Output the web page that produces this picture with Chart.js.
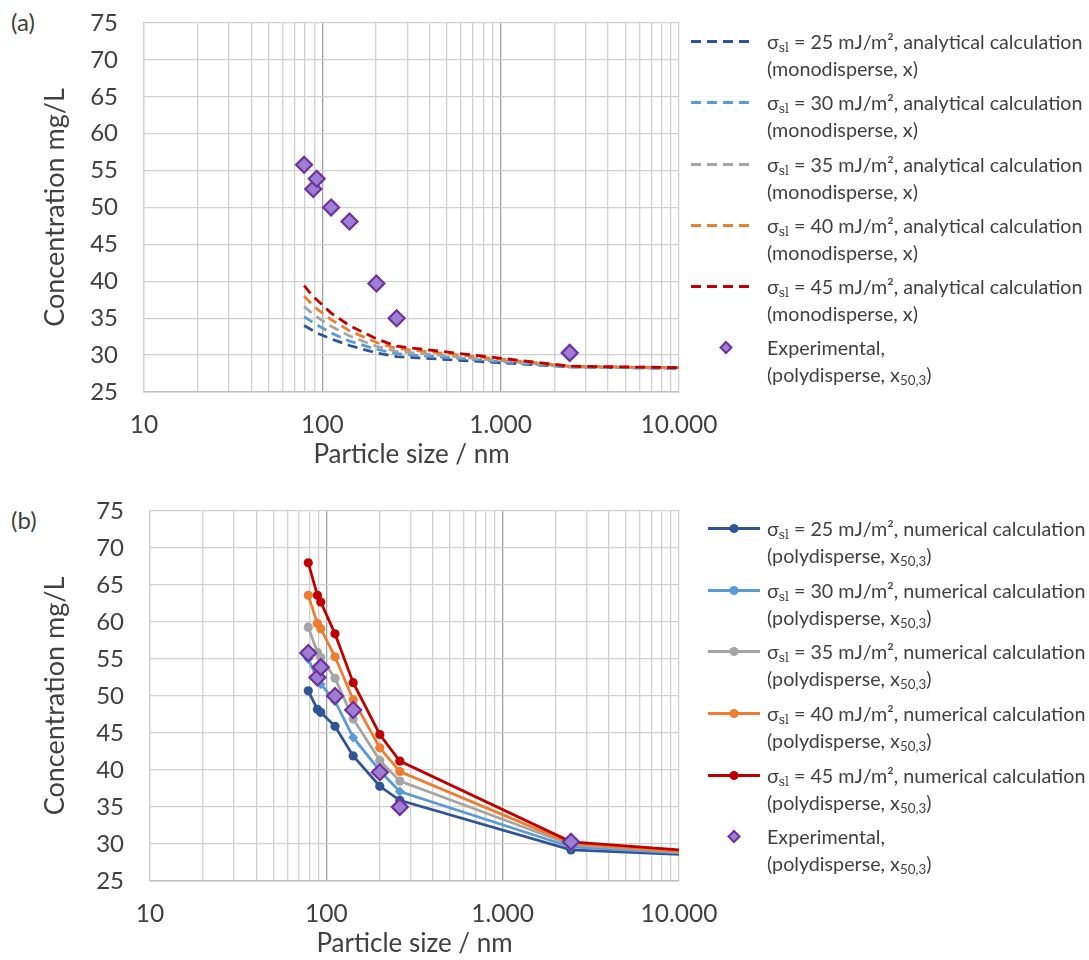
<!DOCTYPE html>
<html>
<head>
<meta charset="utf-8">
<script src="https://cdn.jsdelivr.net/npm/chart.js@4.4.1/dist/chart.umd.min.js"></script>
<style>
  body { margin:0; background:#fff; width:1089px; height:960px; position:relative; overflow:hidden; font-family:Lato, sans-serif; color:#404040; }
  .box { position:absolute; left:0; width:720px; height:470px; }
  #boxA { top:0; }
  #boxB { top:489px; }
  .tag { position:absolute; left:11px; font-size:24px; line-height:28px; }
  .legend { position:absolute; left:689px; width:400px; font-size:19.7px; }
  .entry { position:relative; }
  .entry .txt { position:absolute; left:78px; top:0; line-height:27px; white-space:nowrap; }
  .entry svg { position:absolute; left:0; top:0; }
  sub { font-size:0.68em; vertical-align:-0.25em; line-height:0; }
  sub.sl { font-family:"DejaVu Serif", serif; font-size:0.62em; }
</style>
</head>
<body>
<div class="tag" style="top:8px">(a)</div>
<div class="tag" style="top:506px">(b)</div>
<div class="box" id="boxA"><canvas id="chartA" width="720" height="470"></canvas></div>
<div class="box" id="boxB"><canvas id="chartB" width="720" height="470"></canvas></div>
<div class="legend" id="legA" style="top:28px"></div>
<div class="legend" id="legB" style="top:515px"></div>
<script>
// particle sizes (nm) of the samples, x50,3
const expSizes = [79, 89, 93, 112, 142, 201, 261, 2440];
const expConc  = [55.8, 52.5, 53.9, 50.0, 48.1, 39.7, 35.0, 30.3];

// sizes used for the calculated curves
const calcSizes = [79, 89, 93, 112, 142, 201, 261, 2440, 10000];
const sigmas = [25, 30, 35, 40, 45];

// (a) analytical calculation, monodisperse
const ana25 = [34.0, 33.3, 33.0, 32.2, 31.3, 30.3, 29.8, 28.4, 28.2];
const ana30 = [35.2, 34.4, 34.1, 33.0, 31.9, 30.8, 30.2, 28.4, 28.2];
const ana35 = [36.6, 35.5, 35.2, 33.9, 32.6, 31.2, 30.5, 28.4, 28.3];
const ana40 = [38.0, 36.7, 36.3, 34.8, 33.3, 31.7, 30.9, 28.5, 28.3];
const ana45 = [39.4, 37.9, 37.5, 35.7, 34.0, 32.2, 31.2, 28.5, 28.3];

// (b) numerical calculation, polydisperse
const num25 = [50.7, 48.2, 47.8, 45.9, 41.9, 37.8, 35.9, 29.2, 28.6];
const num30 = [55.0, 52.3, 51.6, 49.3, 44.4, 39.9, 37.1, 29.6, 28.8];
const num35 = [59.3, 55.9, 55.2, 52.4, 46.9, 41.3, 38.5, 29.9, 28.9];
const num40 = [63.6, 59.8, 59.1, 55.3, 49.5, 43.0, 39.8, 30.1, 29.0];
const num45 = [68.0, 63.6, 62.7, 58.4, 51.8, 44.8, 41.2, 30.3, 29.2];

const xTickText = {10: '10', 100: '100', 1000: '1.000', 10000: '10.000'};
const colors = ['#2f5597', '#5b9bd5', '#a5a5a5', '#ed7d31', '#c00000'];
const expFill = '#9c7fd2', expBorder = '#7030a0';
const txtColor = '#404040';
const fontFam = 'Lato';

// log grid: 10,20,...,90,100,200,...,10000
const gridValues = [];
[10, 100, 1000].forEach(d => { for (let m = 1; m < 10; m++) gridValues.push(m * d); });
gridValues.push(10000);

const pts = (xs, ys) => ys.map((y, i) => ({x: xs[i], y: y}));

const expSet = {
  label: 'Experimental', data: pts(expSizes, expConc), showLine: false, order: 0,
  pointStyle: 'rectRot', pointRadius: 8, backgroundColor: expFill, borderColor: expBorder, pointBorderWidth: 2.2
};

function makeChart(id, datasets, yWidth, padTop) {
  return new Chart(document.getElementById(id), {
    type: 'scatter',
    data: { datasets: datasets },
    options: {
      responsive: false, animation: false,
      layout: { padding: { top: padTop, right: 41, bottom: 0, left: 0 } },
      plugins: { legend: { display: false }, tooltip: { enabled: false } },
      scales: {
        x: {
          type: 'logarithmic', min: 10, max: 10000,
          afterBuildTicks: s => { s.ticks = gridValues.map(v => ({value: v})); },
          afterFit: s => { s.height = 78; s.paddingLeft = 0; s.paddingRight = 0; },
          ticks: { autoSkip: false, maxRotation: 0, padding: 18, color: txtColor,
                   font: {family: fontFam, size: 24.5}, callback: v => xTickText[v] || '' },
          grid: { drawTicks: false, lineWidth: 1.3,
                  color: c => (c.tick && (c.tick.value === 100 || c.tick.value === 1000)) ? '#a0a0a0' : '#d0d0d0' },
          border: { color: '#bfbfbf', width: 1.5 },
          title: { display: true, text: 'Particle size / nm', color: txtColor,
                   font: {family: fontFam, size: 26}, padding: {top: 0, bottom: 0} }
        },
        y: {
          min: 25, max: 75,
          afterFit: s => { s.width = yWidth; s.paddingTop = 0; s.paddingBottom = 0; },
          ticks: { stepSize: 5, padding: 26, color: txtColor, font: {family: fontFam, size: 24} },
          grid: { drawTicks: false, color: '#d0d0d0', lineWidth: 1.3 },
          border: { color: '#d0d0d0', width: 1.3 },
          title: { display: true, text: 'Concentration mg/L', color: txtColor,
                   font: {family: fontFam, size: 27}, padding: {top: 39, bottom: 0} }
        }
      }
    }
  });
}

// (a)
const anaSeries = [ana25, ana30, ana35, ana40, ana45];
const dsA = [expSet].concat(anaSeries.map((s, i) => ({
  label: 'sigma ' + sigmas[i], data: pts(calcSizes, s), showLine: true, order: 5 - i,
  borderColor: colors[i], borderWidth: 2.8, borderDash: [10, 6], pointRadius: 0, fill: false
})));
makeChart('chartA', dsA, 144, 23);

// (b)
const numSeries = [num25, num30, num35, num40, num45];
const lastIdx = calcSizes.length - 1;
const dsB = [Object.assign({}, expSet, {data: pts(expSizes, expConc)})].concat(numSeries.map((s, i) => ({
  label: 'sigma ' + sigmas[i], data: pts(calcSizes, s), showLine: true, order: 5 - i,
  borderColor: colors[i], backgroundColor: colors[i], borderWidth: 2.8,
  pointStyle: i === 1 ? 'rectRot' : 'circle', pointBorderWidth: 0,
  pointRadius: c => c.dataIndex === lastIdx ? 0 : (i === 1 ? 5 : 4.6)
})));
makeChart('chartB', dsB, 150, 22);

// legends (HTML, two-line entries)
function sampleSvg(color, kind, cx) {
  let s = '<svg width="78" height="27">';
  if (kind === 'dash') s += `<line x1="2" y1="13.5" x2="65" y2="13.5" stroke="${color}" stroke-width="2.8" stroke-dasharray="10,6"/>`;
  if (kind === 'line') s += `<line x1="19" y1="13.5" x2="71" y2="13.5" stroke="${color}" stroke-width="2.8"/>`;
  if (kind === 'line') s += `<circle cx="${cx}" cy="13.5" r="4.5" fill="${color}"/>`;
  if (kind === 'diamond') s += `<path d="M${cx} 8 L${cx + 5.5} 13.5 L${cx} 19 L${cx - 5.5} 13.5 Z" fill="${expFill}" stroke="${expBorder}" stroke-width="2"/>`;
  return s + '</svg>';
}
function buildLegend(id, entries, step) {
  const el = document.getElementById(id);
  el.innerHTML = entries.map(e =>
    `<div class="entry" style="height:${step}px">${e.svg}<div class="txt">${e.text}</div></div>`).join('');
}
const sig = 'σ<sub class="sl">sl</sub>';
const x503 = 'x<sub>50,3</sub>';
buildLegend('legA', sigmas.map((v, i) => ({
  svg: sampleSvg(colors[i], 'dash'),
  text: `${sig} = ${v} mJ/m², analytical calculation<br>(monodisperse, x)`
})).concat([{ svg: sampleSvg(expFill, 'diamond', 37), text: `Experimental,<br>(polydisperse, ${x503})` }]), 61.3);
buildLegend('legB', sigmas.map((v, i) => ({
  svg: sampleSvg(colors[i], 'line', 45),
  text: `${sig} = ${v} mJ/m², numerical calculation<br>(polydisperse, ${x503})`
})).concat([{ svg: sampleSvg(expFill, 'diamond', 45), text: `Experimental,<br>(polydisperse, ${x503})` }]), 61.7);
</script>
</body>
</html>
